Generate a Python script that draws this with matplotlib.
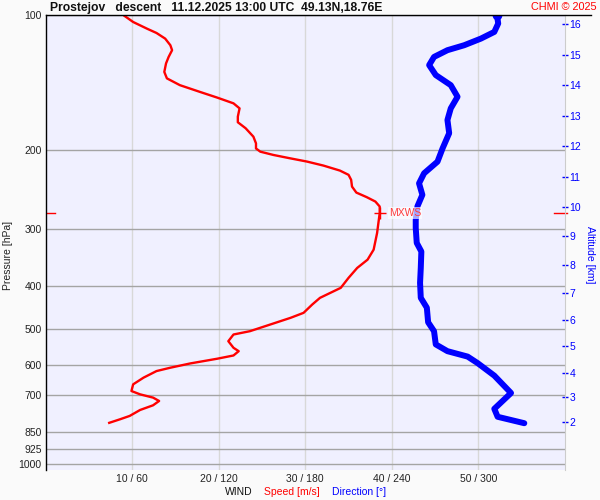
import matplotlib
matplotlib.use('Agg')
import matplotlib.pyplot as plt
from matplotlib.lines import Line2D
from matplotlib.ticker import NullLocator

plt.rcParams['font.family'] = ['Liberation Sans', 'DejaVu Sans']

# ---- data ----
pressure_ticks = [100, 200, 300, 400, 500, 600, 700, 850, 925, 1000]
speed_ticks = [10, 20, 30, 40, 50]
speed_tick_labels = ['10 / 60', '20 / 120', '30 / 180', '40 / 240', '50 / 300']

alt_km = [2, 3, 4, 5, 6, 7, 8, 9, 10, 11, 12, 13, 14, 15, 16]
alt_p = [805.4, 707.4, 625.6, 545.9, 476.2, 415.4, 360.7, 310.9, 267.6,
         228.8, 195.2, 167.7, 143.1, 122.3, 104.3]

p_spd = [100.0, 103.5, 107.1, 109.5, 112.7, 116.6, 119.6, 123.8, 128.0, 133.7,
         138.2, 143.1, 148.1, 152.5, 157.1, 161.2, 168.2, 173.1, 178.5, 186.4,
         192.9, 198.0, 201.3, 204.7, 208.2, 211.8, 216.2, 221.8, 226.7, 232.6,
         240.8, 248.3, 254.2, 260.0, 266.7, 275.9, 305.5, 332.8, 350.3, 365.5,
         384.6, 404.8, 426.1, 441.0, 460.2, 472.1, 491.1, 505.6, 514.3, 532.2,
         550.6, 560.2, 572.7, 582.4, 596.6, 609.8, 620.4, 641.7, 664.1, 687.3,
         699.1, 710.9, 723.3, 739.5, 757.5, 780.9, 794.3, 810.7]
speed = [9.0, 10.1, 11.7, 12.8, 13.8, 14.4, 14.6, 14.2, 13.9, 13.7,
         14.0, 15.5, 17.8, 19.8, 21.7, 22.4, 22.2, 22.2, 23.1, 24.0,
         24.3, 24.3, 24.8, 26.3, 28.2, 30.2, 32.1, 34.0, 35.0, 35.3,
         35.4, 35.9, 37.1, 38.1, 38.6, 38.6, 38.3, 37.9, 37.2, 36.0,
         35.0, 34.1, 31.7, 30.8, 29.8, 28.3, 25.6, 23.6, 21.7, 21.1,
         21.7, 22.3, 21.7, 19.8, 16.7, 14.4, 12.8, 11.3, 10.1, 9.9,
         10.9, 12.4, 13.1, 12.4, 10.9, 9.7, 8.6, 7.2]

p_dir = [100.0, 104.3, 108.9, 112.7, 116.6, 119.6, 123.8, 129.1, 135.9, 143.1,
         151.9, 161.2, 171.1, 183.1, 198.0, 211.9, 224.9, 236.8, 251.2, 266.4,
         285.8, 297.8, 321.5, 336.0, 365.5, 394.6, 426.1, 448.2, 483.0, 505.6,
         541.1, 560.2, 576.0, 595.5, 635.1, 694.3, 753.0, 784.4, 810.7]
direction = [313, 313.8, 311.1, 301.8, 290.2, 278.6, 269.3, 265.9, 270.5, 280.9,
             285.6, 280.9, 278.6, 279.8, 275.2, 271.7, 262.4, 258.9, 261.2, 257.8,
             256.6, 256.6, 257.3, 260.5, 260.1, 259.6, 260.1, 264.3, 265.2, 269.3,
             270.5, 278.6, 292.6, 299.5, 311.1, 322.7, 311.1, 313.4, 331.9]

mxws_speed = 38.6
mxws_p = 275.9

# ---- figure ----
W, H = 600, 500
fig = plt.figure(figsize=(6, 5), dpi=100, facecolor='#fafafa')


def fx(px):
    return px / W


def fy(py):
    return 1 - py / H


L, R, T, B = 45.8, 564.8, 15.3, 469.5
ax = fig.add_axes([fx(L), fy(B), fx(R) - fx(L), fy(T) - fy(B)])
ax.set_facecolor('#f0f0ff')
ax.set_yscale('log')
ax.set_ylim(1028, 100)
ax.set_xlim(0, 60)
ax.set_yticks(pressure_ticks)
ax.set_yticklabels([str(p) for p in pressure_ticks])
ax.yaxis.set_minor_locator(NullLocator())
ax.set_xticks(speed_ticks)
ax.set_xticklabels(speed_tick_labels)
ax.tick_params(axis='both', length=0, labelsize=7.5, pad=3, colors='#222222')
ax.grid(axis='y', color='#a4a4a4', lw=1)
ax.grid(axis='x', color='#d8d8d8', lw=1)
ax.set_axisbelow(True)
for s in ['top', 'bottom', 'right']:
    ax.spines[s].set_visible(False)
ax.spines['left'].set_color('black')
ax.spines['left'].set_linewidth(1)

# altitude axis
ax3 = ax.twinx()
ax3.set_yscale('log')
ax3.set_ylim(1028, 100)
ax3.set_yticks(alt_p)
ax3.set_yticklabels([str(k) for k in alt_km])
ax3.yaxis.set_minor_locator(NullLocator())
ax3.tick_params(axis='y', colors='#0000ff', labelsize=7.5, length=5,
                direction='inout', width=1, pad=1)
for s in ['top', 'bottom', 'left']:
    ax3.spines[s].set_visible(False)
ax3.spines['right'].set_color('#cccccc')

# speed
ax.plot(speed, p_spd, color='#ff0000', lw=1.7, zorder=3,
        solid_joinstyle='round', solid_capstyle='butt')
ax.axhline(mxws_p, xmin=0, xmax=0.018, color='#ff0000', lw=1)
ax.axhline(mxws_p, xmin=0.98, xmax=1.005, color='#ff0000', lw=1, clip_on=False)

# direction
ax2 = ax.twiny()
ax2.set_xlim(0, 360)
ax2.set_xticks([])
for s in ax2.spines.values():
    s.set_visible(False)
ax2.plot(direction, p_dir, color='#0000ff', lw=4.3, solid_capstyle='round',
         solid_joinstyle='round', zorder=3)
ax2.plot(direction[:1], p_dir[:1], 'o', color='#0000ff', ms=6, zorder=3)

ax2.plot([mxws_speed], [mxws_p], marker='+', color='#ff0000', ms=9, mew=1,
         transform=ax.transData, zorder=5)
ax2.text(mxws_speed + 1.1, mxws_p, 'MXWS', transform=ax.transData,
         color='#ff3c3c', fontsize=7.5, va='center', ha='left', zorder=6,
         bbox=dict(boxstyle='square,pad=0.1', fc='white', ec='none', alpha=0.65))

# top line
fig.add_artist(Line2D([fx(L), fx(591)], [fy(T), fy(T)], color='black', lw=1))

# texts
fig.text(fx(50), fy(7.5), 'Prostejov   descent   11.12.2025 13:00 UTC  49.13N,18.76E',
         fontsize=8.75, fontweight='bold', ha='left', va='center', color='#111111')
fig.text(fx(597), fy(7.5), 'CHMI \u00a9 2025', fontsize=7.8, color='#ff0000',
         ha='right', va='center')
fig.text(fx(8), fy(255), 'Pressure [hPa]', rotation=90, fontsize=7.5,
         ha='center', va='center', color='#222222')
fig.text(fx(590), fy(255), 'Altitude [km]', rotation=270, fontsize=7.5,
         ha='center', va='center', color='#0000ff')
fig.text(fx(225), fy(492), 'WIND', fontsize=7.5, ha='left', va='center', color='#111111')
fig.text(fx(264), fy(492), 'Speed [m/s]', fontsize=7.5, ha='left', va='center', color='#ff0000')
fig.text(fx(332), fy(492), 'Direction [\u00b0]', fontsize=7.5, ha='left', va='center', color='#0000ff')

fig.savefig('out.png', dpi=100, facecolor=fig.get_facecolor())
